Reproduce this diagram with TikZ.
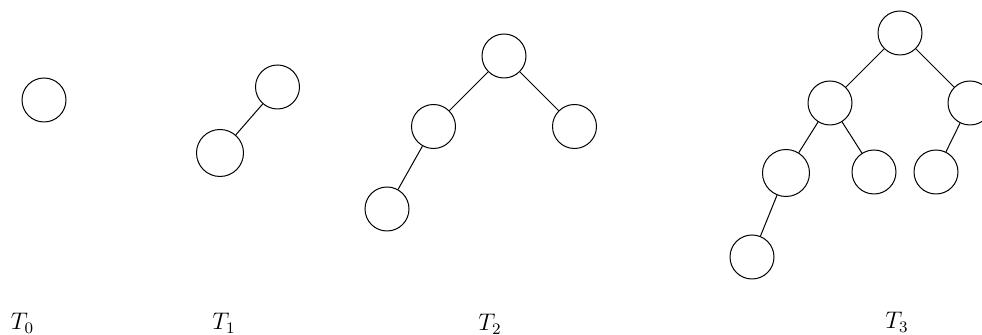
\documentclass[tikz,border=0pt]{standalone}
\begin{document}
\begin{tikzpicture}[x=0.5pt,y=-0.5pt,
  vtx/.style={draw,circle,inner sep=0pt,minimum size=22pt,line width=0.5pt},
  bigvtx/.style={vtx,minimum size=23.5pt},
  edge/.style={line width=0.5pt},
  lbl/.style={anchor=base,inner sep=0pt,font=\large}]
\useasboundingbox (0,0) rectangle (982,335);
% T0
\node[vtx] (a0) at (44,100) {};
% T1
\node[vtx] (b1) at (277.5,87) {};
\node[bigvtx] (b2) at (220,153) {};
\draw[edge] (b1) -- (b2);
% T2
\node[vtx] (c1) at (504,56) {};
\node[vtx] (c2) at (433.5,126.5) {};
\node[vtx] (c3) at (574.5,126.5) {};
\node[vtx] (c4) at (387,209) {};
\draw[edge] (c1) -- (c2);
\draw[edge] (c1) -- (c3);
\draw[edge] (c2) -- (c4);
% T3
\node[vtx] (d1) at (900,33) {};
\node[vtx] (d2) at (830,103) {};
\node[vtx] (d3) at (970,103) {};
\node[bigvtx] (d4) at (786,173) {};
\node[vtx] (d5) at (874,172) {};
\node[vtx] (d6) at (936,172) {};
\node[vtx] (d7) at (752,257) {};
\draw[edge] (d1) -- (d2);
\draw[edge] (d1) -- (d3);
\draw[edge] (d2) -- (d4);
\draw[edge] (d2) -- (d5);
\draw[edge] (d3) -- (d6);
\draw[edge] (d4) -- (d7);
% labels
\node[lbl] (l0) at (22.5,330) {$T_0$};
\node[lbl] (l1) at (224,330) {$T_1$};
\node[lbl] (l2) at (490,331) {$T_2$};
\node[lbl] (l3) at (897,329) {$T_3$};
\end{tikzpicture}
\end{document}
